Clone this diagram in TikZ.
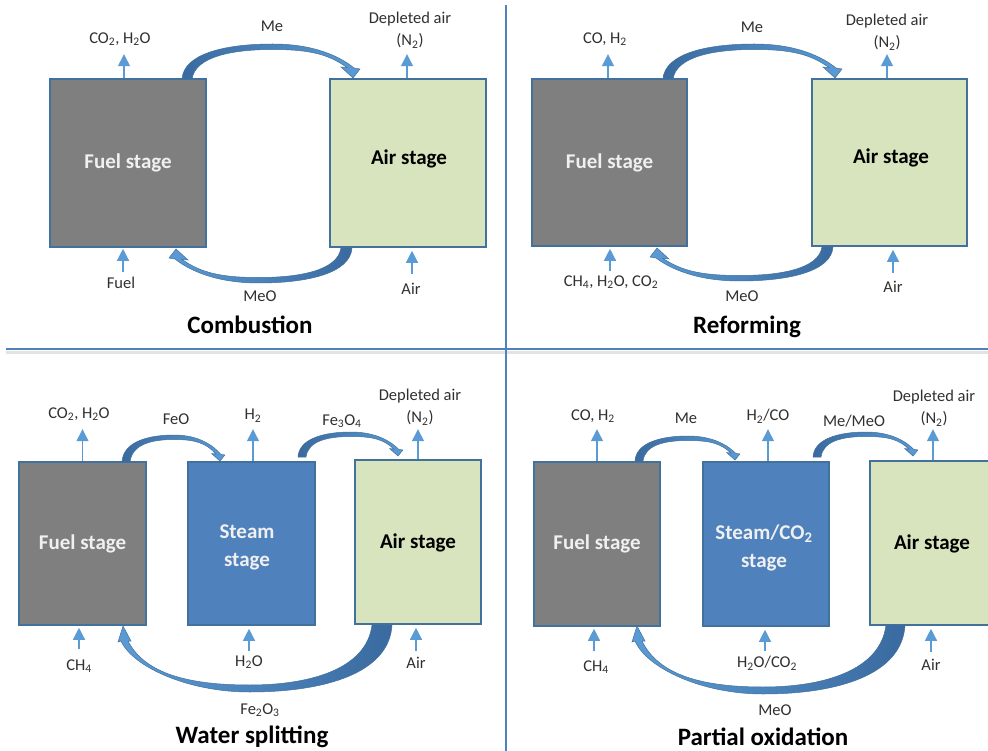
\documentclass[tikz,border=0pt]{standalone}
\usepackage{fontspec}
\setmainfont{Carlito}
\usetikzlibrary{arrows.meta}
\definecolor{boxedge}{HTML}{41719C}
\definecolor{fuelgray}{HTML}{7F7F7F}
\definecolor{airgreen}{HTML}{D7E4BD}
\definecolor{steamblue}{HTML}{4F81BD}
\definecolor{flowblue}{HTML}{5B9BD5}
\definecolor{arcdark}{HTML}{3A6A9F}
\definecolor{arclight}{HTML}{5B9BD5}
\definecolor{arcedge}{HTML}{41719C}
\definecolor{divblue}{HTML}{4F81BD}
\definecolor{txt}{HTML}{303030}

% curved arrow between two stages (tail at origin, head at span S)
\newcommand{\carrow}[9][]{%
\path[carrowbase,#1]
 ({#2}, {#3})
 .. controls ({#2+(#4)*0.01*#5},{#3-(#4)*0.72*#6}) and ({#2+(#4)*0.25*#5},{#3-(#4)*#6}) ..
 ({#2+(#4)*0.53*#5},{#3-(#4)*#6})
 .. controls ({#2+(#4)*0.78*#5},{#3-(#4)*#6}) and ({#2+(#4)*0.93*#5},{#3-(#4)*0.62*#6}) ..
 ({#2+(#4)*(#5+1*#9)},{#3-(#4)*11*#9})
 -- ({#2+(#4)*(#5+7*#9)},{#3-(#4)*10*#9})
 -- ({#2+(#4)*#5},{#3-(#4)*1})
 -- ({#2+(#4)*(#5-12*#9)},{#3-(#4)*12*#9})
 -- ({#2+(#4)*(#5-6*#9)},{#3-(#4)*11.4*#9})
 .. controls ({#2+(#4)*0.86*#5},{#3-(#4)*0.7*#6}) and ({#2+(#4)*0.75*#5},{#3-(#4)*(#6-#8)}) ..
 ({#2+(#4)*0.53*#5},{#3-(#4)*(#6-#8)})
 .. controls ({#2+(#4)*0.3*#5},{#3-(#4)*(#6-#8)}) and ({#2+(#4)*(#7+0.02*#5)},{#3-(#4)*0.65*#6}) ..
 ({#2+(#4)*#7},{#3})
 -- cycle;
}

% long return arrow under three stages (narrow, long head)
\newcommand{\carrowbig}[8][]{%
\path[carrowbase,#1]
 ({#2}, {#3})
 .. controls ({#2+(#4)*0.01*#5},{#3-(#4)*0.72*#6}) and ({#2+(#4)*0.25*#5},{#3-(#4)*#6}) ..
 ({#2+(#4)*0.53*#5},{#3-(#4)*#6})
 .. controls ({#2+(#4)*0.76*#5},{#3-(#4)*#6}) and ({#2+(#4)*0.965*#5},{#3-(#4)*0.62*#6}) ..
 ({#2+(#4)*(#5+2)},{#3-(#4)*16})
 -- ({#2+(#4)*(#5+5)},{#3-(#4)*17})
 -- ({#2+(#4)*#5},{#3-(#4)*1})
 -- ({#2+(#4)*(#5-8)},{#3-(#4)*16})
 -- ({#2+(#4)*(#5-5)},{#3-(#4)*16})
 .. controls ({#2+(#4)*0.92*#5},{#3-(#4)*0.72*#6}) and ({#2+(#4)*0.76*#5},{#3-(#4)*(#6-#8)}) ..
 ({#2+(#4)*0.53*#5},{#3-(#4)*(#6-#8)})
 .. controls ({#2+(#4)*0.3*#5},{#3-(#4)*(#6-#8)}) and ({#2+(#4)*(#7+0.02*#5)},{#3-(#4)*0.65*#6}) ..
 ({#2+(#4)*#7},{#3})
 -- cycle;
}

\tikzset{
  stagebox/.style={draw=boxedge, line width=1.6pt, inner sep=0pt, align=center,
    font=\fontsize{21}{28}\selectfont\bfseries},
  fuelbox/.style={stagebox, fill=fuelgray, text=white!94!black},
  airbox/.style={stagebox, fill=airgreen, text=black},
  steambox/.style={stagebox, fill=steamblue, text=white!94!black},
  stagetxt/.style={font=\fontsize{21}{28}\selectfont\bfseries, align=center, inner sep=0pt},
  lbl/.style={font=\fontsize{16.5}{22}\selectfont, text=txt, inner sep=0pt, align=center},
  ttl/.style={font=\fontsize{25}{28}\selectfont\bfseries, text=black, inner sep=0pt},
  flow/.style={draw=flowblue, line width=1.3pt, -{Triangle[width=12pt,length=12pt]}},
  carrowbase/.style={draw=arcedge, line width=0.5pt},
  topshade/.style={left color=arcdark, right color=arclight},
  botshade/.style={left color=arclight, right color=arcdark},
  divider/.style={draw=divblue, line width=2.2pt},
}

\begin{document}
\begin{tikzpicture}[x=1pt,y=-1pt]
\useasboundingbox (0,0) rectangle (988,751);
\clip (0,0) rectangle (988,751);
\fill[white] (0,0) rectangle (988,751);

% dividers
\draw[gray!22, line width=3pt] (6,352.5) -- (988,352.5);
\draw[divider] (6,349) -- (988,349);
\draw[divider] (506,5) -- (506,751);

% ---------- Panel 1: Combustion ----------
\node[fuelbox, minimum width=156pt, minimum height=168pt] (f1) at (128,163) {Fuel stage};
\node[airbox, minimum width=156pt, minimum height=168pt] (a1) at (408,163) {};
\node[stagetxt] (a1t) at (409,159) {Air stage};
\carrow[topshade]{182}{79}{1}{171}{35}{10}{5.5}{1}
\carrow[botshade]{352}{248}{-1}{176}{35}{11}{5.5}{1}
\draw[flow] ([xshift=-4pt]f1.north) -- ++(0,-24);
\draw[flow] ([xshift=-1pt]a1.north) -- ++(0,-24);
\draw[flow] ([xshift=-5pt,yshift=-24pt]f1.south) -- ([xshift=-5pt,yshift=-1pt]f1.south);
\draw[flow] ([xshift=4pt,yshift=-26pt]a1.south) -- ([xshift=4pt,yshift=-3pt]a1.south);
\node[lbl] (p1out) at (120,39) {CO\textsubscript{2}, H\textsubscript{2}O};
\node[lbl] (p1me) at (272,26) {Me};
\node[lbl] (p1dep) at (410,30.5) {Depleted air\\(N\textsubscript{2})};
\node[lbl] (p1in) at (121,283) {Fuel};
\node[lbl] (p1meo) at (260,296) {MeO};
\node[lbl] (p1air) at (411,289) {Air};
\node[ttl] (p1t) at (250,325) {Combustion};

% ---------- Panel 2: Reforming ----------
\node[fuelbox, minimum width=155pt, minimum height=167pt] (f2) at (609.5,162.5) {Fuel stage};
\node[airbox, minimum width=155pt, minimum height=167pt] (a2) at (889.5,162.5) {};
\node[stagetxt] (a2t) at (891,158) {Air stage};
\carrow[topshade]{663}{79}{1}{172}{35}{10}{5.5}{1}
\carrow[botshade]{833}{247}{-1}{176}{34}{11}{5.5}{1}
\draw[flow] ([xshift=-1.5pt]f2.north) -- ++(0,-24);
\draw[flow] ([xshift=-2.5pt]a2.north) -- ++(0,-24);
\draw[flow] ([xshift=0.5pt,yshift=-24pt]f2.south) -- ([xshift=0.5pt,yshift=-2pt]f2.south);
\draw[flow] ([xshift=3.5pt,yshift=-26pt]a2.south) -- ([xshift=3.5pt,yshift=-3pt]a2.south);
\node[lbl] (p2out) at (605,39) {CO, H\textsubscript{2}};
\node[lbl] (p2me) at (752,27) {Me};
\node[lbl] (p2dep) at (887,32.5) {Depleted air\\(N\textsubscript{2})};
\node[lbl] (p2in) at (611,282) {CH\textsubscript{4}, H\textsubscript{2}O, CO\textsubscript{2}};
\node[lbl] (p2meo) at (742,296) {MeO};
\node[lbl] (p2air) at (893,287) {Air};
\node[ttl] (p2t) at (747,327) {Reforming};

% ---------- Panel 3: Water splitting ----------
\node[fuelbox, minimum width=127pt, minimum height=163pt] (f3) at (82.5,543.5) {Fuel stage};
\node[steambox, minimum width=127pt, minimum height=163pt] (s3) at (251.5,543.5) {};
\node[stagetxt, text=white!94!black] (s3t) at (247,547) {Steam\\stage};
\node[airbox, minimum width=126pt, minimum height=164pt] (a3) at (418,542) {};
\node[stagetxt] (a3t) at (418,543) {Air stage};
\carrow[topshade]{122}{462}{1}{98}{27}{8}{4.5}{0.7}
\carrow[topshade]{298}{457}{1}{100}{25}{8}{4.5}{0.7}
\carrowbig[botshade]{392}{625}{-1}{269}{67}{20}{7}
\draw[flow] (f3.north) -- ++(0,-32);
\draw[flow] ([xshift=1.5pt]s3.north) -- ++(0,-32);
\draw[flow] (a3.north) -- ++(0,-30);
\draw[flow] ([xshift=-3.5pt,yshift=-23pt]f3.south) -- ([xshift=-3.5pt,yshift=-2pt]f3.south);
\draw[flow] ([xshift=-2.5pt,yshift=-25pt]s3.south) -- ([xshift=-2.5pt,yshift=-3pt]s3.south);
\draw[flow] ([xshift=-2pt,yshift=-26pt]a3.south) -- ([xshift=-2pt,yshift=-3pt]a3.south);
\node[lbl] (p3out) at (79,414) {CO\textsubscript{2}, H\textsubscript{2}O};
\node[lbl] (p3feo) at (176,419) {FeO};
\node[lbl] (p3h2) at (253,416) {H\textsubscript{2}};
\node[lbl] (p3fe3) at (342,421) {Fe\textsubscript{3}O\textsubscript{4}};
\node[lbl] (p3dep) at (420,407) {Depleted air\\(N\textsubscript{2})};
\node[lbl] (p3in) at (79,666) {CH\textsubscript{4}};
\node[lbl] (p3h2o) at (249,662) {H\textsubscript{2}O};
\node[lbl] (p3air) at (416,663) {Air};
\node[lbl] (p3fe2) at (260,710) {Fe\textsubscript{2}O\textsubscript{3}};
\node[ttl] (p3t) at (252,737) {Water splitting};

% ---------- Panel 4: Partial oxidation ----------
\node[fuelbox, minimum width=126pt, minimum height=164pt] (f4) at (597,544) {Fuel stage};
\node[steambox, minimum width=126pt, minimum height=164pt] (s4) at (766,544) {};
\node[stagetxt, text=white!94!black] (s4t) at (764,548) {Steam/CO\textsubscript{2}\\stage};
\node[airbox, minimum width=126pt, minimum height=164pt] (a4) at (933,543) {};
\node[stagetxt] (a4t) at (932,544) {Air stage};
\carrow[topshade]{635}{461}{1}{100}{25}{8}{4.5}{0.7}
\carrow[topshade]{813}{457}{1}{100}{25}{8}{4.5}{0.7}
\carrowbig[botshade]{905}{625}{-1}{268}{69}{19}{7}
\draw[flow] (f4.north) -- ++(0,-32);
\draw[flow] ([xshift=2pt]s4.north) -- ++(0,-32);
\draw[flow] (a4.north) -- ++(0,-31);
\draw[flow] ([xshift=-3pt,yshift=-24pt]f4.south) -- ([xshift=-3pt,yshift=-2pt]f4.south);
\draw[flow] ([xshift=-1pt,yshift=-24pt]s4.south) -- ([xshift=-1pt,yshift=-3pt]s4.south);
\draw[flow] ([xshift=-2pt,yshift=-26pt]a4.south) -- ([xshift=-2pt,yshift=-3pt]a4.south);
\node[lbl] (p4out) at (593,416) {CO, H\textsubscript{2}};
\node[lbl] (p4me) at (686,418) {Me};
\node[lbl] (p4h2) at (768,416) {H\textsubscript{2}/CO};
\node[lbl] (p4mm) at (854,421) {Me/MeO};
\node[lbl] (p4dep) at (934,408) {Depleted air\\(N\textsubscript{2})};
\node[lbl] (p4in) at (596,667) {CH\textsubscript{4}};
\node[lbl] (p4h2o) at (767,663) {H\textsubscript{2}O/CO\textsubscript{2}};
\node[lbl] (p4air) at (931,665) {Air};
\node[lbl] (p4meo) at (775,710) {MeO};
\node[ttl] (p4t) at (763,737) {Partial oxidation};
\end{tikzpicture}
\end{document}
